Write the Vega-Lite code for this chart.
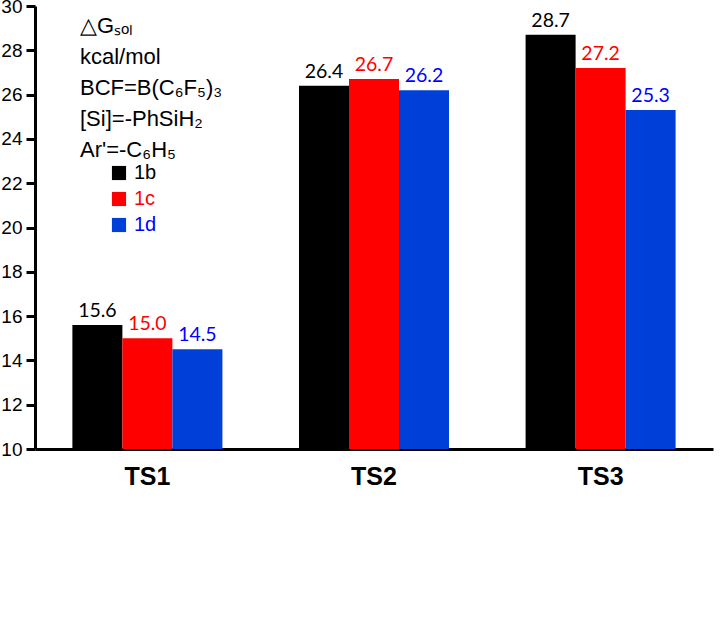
{
  "$schema": "https://vega.github.io/schema/vega-lite/v6.json",
  "width": 678,
  "height": 443,
  "autosize": "none",
  "padding": {"left": 35, "top": 6, "right": 13, "bottom": 195},
  "background": "white",
  "config": {"view": {"stroke": null}, "font": "Liberation Sans"},
  "data": {
    "values": [
      {"ts": "TS1", "series": "1b", "value": 15.6},
      {"ts": "TS1", "series": "1c", "value": 15.0},
      {"ts": "TS1", "series": "1d", "value": 14.5},
      {"ts": "TS2", "series": "1b", "value": 26.4},
      {"ts": "TS2", "series": "1c", "value": 26.7},
      {"ts": "TS2", "series": "1d", "value": 26.2},
      {"ts": "TS3", "series": "1b", "value": 28.7},
      {"ts": "TS3", "series": "1c", "value": 27.2},
      {"ts": "TS3", "series": "1d", "value": 25.3}
    ]
  },
  "encoding": {
    "x": {
      "field": "ts", "type": "nominal",
      "scale": {"paddingInner": 0.338, "paddingOuter": 0.165},
      "axis": {
        "title": null, "labelAngle": 0, "ticks": false,
        "domainColor": "black", "domainWidth": 3,
        "labelFont": "Liberation Sans", "labelFontSize": 25, "labelFontWeight": "bold",
        "labelColor": "black", "labelPadding": 15
      }
    },
    "xOffset": {"field": "series", "type": "nominal", "scale": {"paddingInner": 0, "paddingOuter": 0}},
    "y": {
      "field": "value", "type": "quantitative",
      "scale": {"domain": [10, 30], "nice": false, "zero": false},
      "axis": {
        "title": null, "values": [10, 12, 14, 16, 18, 20, 22, 24, 26, 28, 30],
        "grid": false, "domainColor": "black", "domainWidth": 3,
        "tickColor": "black", "tickWidth": 3, "tickSize": 9,
        "labelFont": "Liberation Sans", "labelFontSize": 19, "labelColor": "black",
        "labelPadding": 4, "minExtent": 35, "maxExtent": 35
      }
    }
  },
  "layer": [
    {
      "mark": {"type": "bar", "clip": true},
      "encoding": {
        "y2": {"datum": 10},
        "color": {
          "field": "series", "type": "nominal",
          "scale": {"domain": ["1b", "1c", "1d"], "range": ["#000000", "#ff0000", "#0040d8"]},
          "legend": {
            "orient": "none", "legendX": 45, "legendY": 10,
            "title": ["△Gₛₒₗ", "kcal/mol", "BCF=B(C₆F₅)₃", "[Si]=-PhSiH₂", "Ar'=-C₆H₅"],
            "titleFont": "Liberation Sans", "titleFontSize": 22, "titleFontWeight": "normal",
            "titleColor": "black", "titleLineHeight": 31, "titlePadding": 1,
            "symbolType": "square", "symbolSize": 200, "symbolStrokeWidth": 0,
            "symbolOffset": 29, "labelOffset": 5,
            "labelFont": "Liberation Sans", "labelFontSize": 20, "rowPadding": 6,
            "encode": {
              "labels": {
                "update": {
                  "fill": {"signal": "datum.value === '1c' ? '#ff0000' : datum.value === '1d' ? '#0000ff' : '#000000'"}
                }
              }
            }
          }
        }
      }
    },
    {
      "mark": {"type": "text", "baseline": "bottom", "dy": -4, "font": "Lato", "fontSize": 19.5},
      "encoding": {
        "text": {"field": "value", "type": "quantitative", "format": ".1f"},
        "color": {
          "condition": [
            {"test": "datum.series === '1c'", "value": "#ff0000"},
            {"test": "datum.series === '1d'", "value": "#0000ff"}
          ],
          "value": "#000000"
        }
      }
    }
  ]
}
